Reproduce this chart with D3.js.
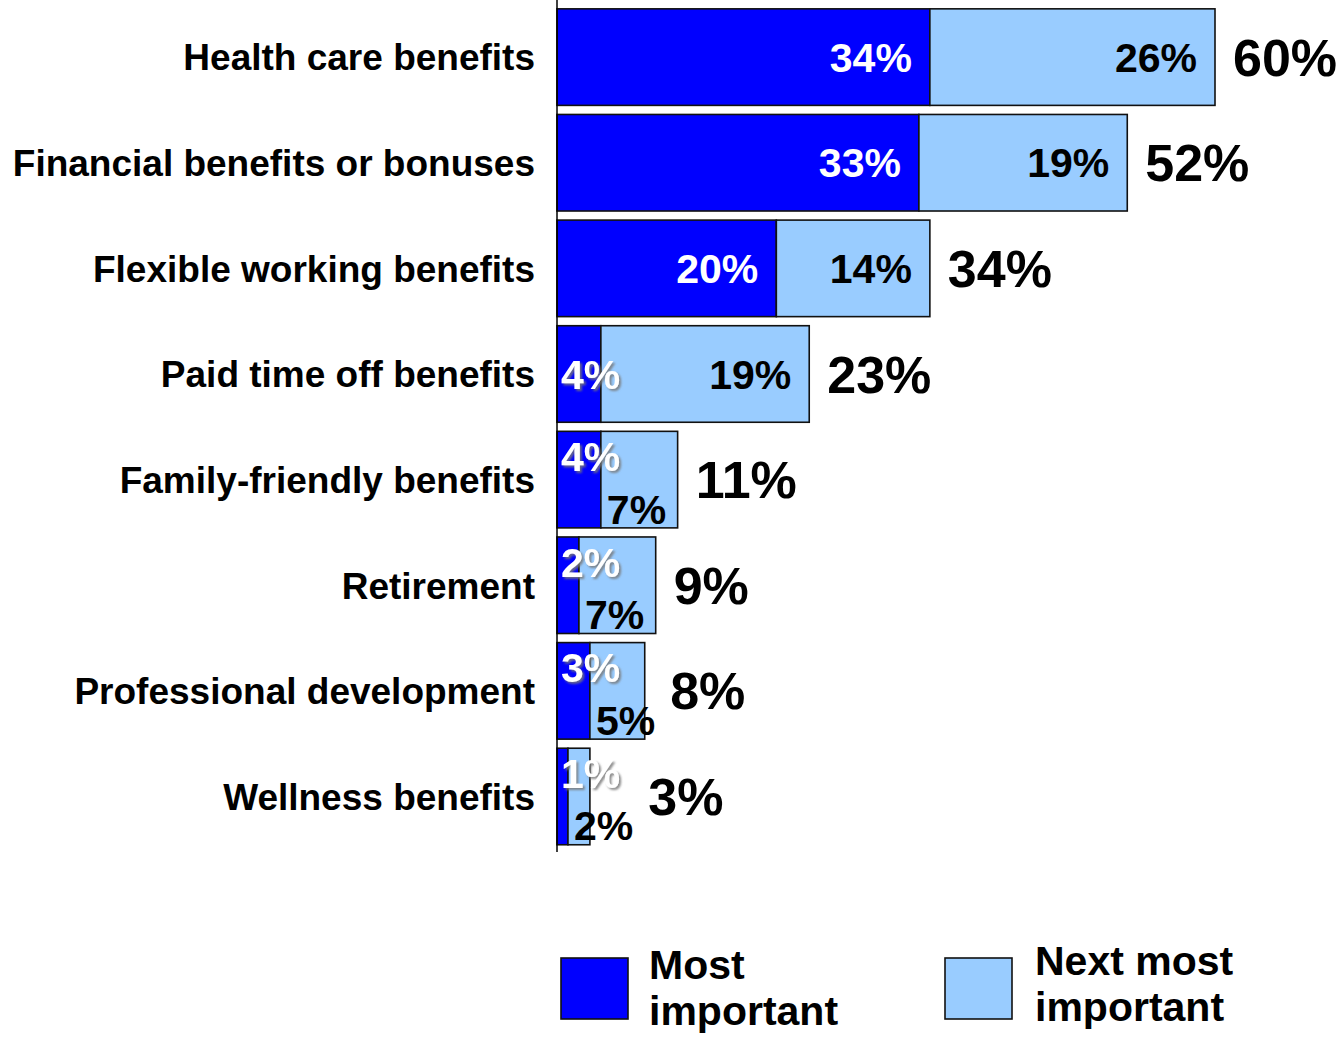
<!DOCTYPE html>
<html>
<head>
<meta charset="utf-8">
<script src="https://cdn.jsdelivr.net/npm/d3@7"></script>
<style>
  html, body { margin: 0; padding: 0; background: #fff; }
  svg { display: block; font-family: "Liberation Sans", Arial, Helvetica, sans-serif; font-weight: bold; }
</style>
</head>
<body>
<svg id="chart" width="1340" height="1037"></svg>
<script>
// Benefit categories, top to bottom
const categories = [
  "Health care benefits",
  "Financial benefits or bonuses",
  "Flexible working benefits",
  "Paid time off benefits",
  "Family-friendly benefits",
  "Retirement",
  "Professional development",
  "Wellness benefits"
];
// Share naming each benefit as most important (%)
const mostImportant = [34, 33, 20, 4, 4, 2, 3, 1];
// Share naming each benefit as next most important (%)
const nextMostImportant = [26, 19, 14, 19, 7, 7, 5, 2];
// Combined share shown at the end of each bar (%)
const totals = [60, 52, 34, 23, 11, 9, 8, 3];
const seriesNames = ["Most important", "Next most important"];
const seriesColors = ["#0000FF", "#99CCFF"];

const svg = d3.select("#chart");
const defs = svg.append("defs");
const shadow = defs.append("filter").attr("id", "labelShadow")
  .attr("x", "-20%").attr("y", "-20%").attr("width", "150%").attr("height", "150%");
shadow.append("feDropShadow")
  .attr("dx", 2).attr("dy", 2).attr("stdDeviation", 1.3)
  .attr("flood-color", "#777").attr("flood-opacity", 0.85);

const x = d3.scaleLinear().domain([0, 60]).range([557, 1215]);
const y = d3.scaleBand().domain(categories).range([4.3, 849.3])
  .paddingInner(0.086).paddingOuter(0.043);

const rows = categories.map((c, i) => ({
  cat: c, a: mostImportant[i], b: nextMostImportant[i], total: totals[i]
}));

const inFont = 41;
const estWidth = v => inFont * (0.556 * String(v).length + 0.889);
const pad = 18;

// Stacked bars with segment labels and totals
const g = svg.append("g");
rows.forEach(r => {
  const top = y(r.cat), h = y.bandwidth(), bottom = top + h, mid = top + h / 2;
  const segs = [
    { v: r.a, x0: 0, x1: r.a, color: seriesColors[0], text: "#fff" },
    { v: r.b, x0: r.a, x1: r.a + r.b, color: seriesColors[1], text: "#000" }
  ];
  segs.forEach(s => {
    g.append("rect")
      .attr("x", x(s.x0)).attr("y", top)
      .attr("width", x(s.x1) - x(s.x0)).attr("height", h)
      .attr("fill", s.color).attr("stroke", "#111").attr("stroke-width", 1.6);
  });
  segs.forEach(s => {
    s.fits = (x(s.x1) - x(s.x0)) >= estWidth(s.v) + 2 * pad;
  });
  const stacked = !segs[0].fits && !segs[1].fits;
  let labelRight = x(r.total);
  segs.forEach((s, k) => {
    const t = g.append("text")
      .attr("font-size", inFont)
      .attr("fill", s.text)
      .text(s.v + "%");
    if (s.fits) {
      t.attr("text-anchor", "end")
        .attr("x", x(s.x1) - pad)
        .attr("y", mid + 0.358 * inFont);
    } else {
      let yy = mid + 0.358 * inFont;
      if (stacked) yy = k === 0 ? top + 25 + 0.358 * inFont : bottom - 19 + 0.358 * inFont;
      const lx = x(s.x0) + (k === 0 ? 4 : 6);
      t.attr("text-anchor", "start").attr("x", lx).attr("y", yy);
      if (s.text === "#fff") t.attr("filter", "url(#labelShadow)");
      labelRight = Math.max(labelRight, lx + t.node().getComputedTextLength());
    }
  });
  // total label, kept clear of any labels spilling past the bar end
  const gap = labelRight > x(r.total) ? 15 : 18;
  g.append("text")
    .attr("font-size", 52)
    .attr("x", labelRight + gap)
    .attr("y", mid + 0.358 * 52)
    .attr("fill", "#000")
    .text(r.total + "%");
});

// Category axis
const axis = svg.append("g").attr("transform", `translate(${x(0)},0)`)
  .call(d3.axisLeft(y).tickSize(0).tickPadding(22));
axis.select(".domain").remove();
axis.append("line").attr("x1", 0).attr("x2", 0).attr("y1", 0).attr("y2", 852)
  .attr("stroke", "#000").attr("stroke-width", 1.5);
axis.selectAll(".tick text")
  .attr("font-family", "Liberation Sans, Arial, sans-serif")
  .attr("font-weight", "bold")
  .attr("font-size", 37)
  .attr("fill", "#000")
  .attr("dy", "0.36em");

// Legend
const legendItems = [
  { name: seriesNames[0], color: seriesColors[0], sx: 561, tx: 649, lines: ["Most", "important"], base: 979 },
  { name: seriesNames[1], color: seriesColors[1], sx: 945, tx: 1035, lines: ["Next most", "important"], base: 975 }
];
const lg = svg.append("g");
legendItems.forEach(it => {
  lg.append("rect").attr("x", it.sx).attr("y", 958).attr("width", 67).attr("height", 61)
    .attr("fill", it.color).attr("stroke", "#111").attr("stroke-width", 1.6);
  const t = lg.append("text").attr("font-size", 41).attr("fill", "#000")
    .attr("x", it.tx).attr("y", it.base);
  it.lines.forEach((ln, i) => {
    t.append("tspan").attr("x", it.tx).attr("dy", i === 0 ? 0 : 46).text(ln);
  });
});
</script>
</body>
</html>
